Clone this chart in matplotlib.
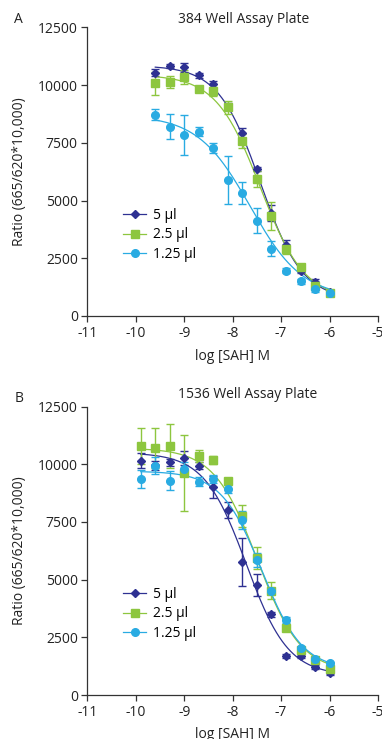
import matplotlib
matplotlib.use('Agg')
import matplotlib.pyplot as plt
import numpy as np

plt.rcParams['font.family'] = ['Open Sans', 'DejaVu Sans']

# colours of the three volumes
c_5 = '#2E3192'
c_25 = '#8DC63F'
c_125 = '#29ABE2'

labels = ['5 \u00b5l', '2.5 \u00b5l', '1.25 \u00b5l']

# A: 384 well plate
x_a = [-9.6, -9.3, -9.0, -8.7, -8.4, -8.1, -7.8, -7.5, -7.2, -6.9, -6.6, -6.3, -6.0]
a_5 = [10540, 10833, 10775, 10430, 10040, 9070, 7915, 6370, 4463, 3077, 1950, 1487, 1027]
a_5_err = [150, 100, 200, 100, 150, 150, 250, 100, 350, 200, 100, 100, 50]
a_25 = [10080, 10140, 10343, 9850, 9737, 9043, 7597, 5950, 4333, 2890, 2110, 1313, 983]
a_25_err = [500, 250, 300, 100, 200, 280, 300, 350, 600, 200, 100, 100, 80]
a_125 = [8723, 8203, 7843, 7987, 7280, 5893, 5317, 4130, 2917, 1963, 1502, 1155, 1000]
a_125_err = [230, 540, 880, 190, 215, 1040, 470, 530, 330, 100, 100, 100, 80]

# B: 1536 well plate
x_b = [-9.9, -9.6, -9.3, -9.0, -8.7, -8.4, -8.1, -7.8, -7.5, -7.2, -6.9, -6.6, -6.3, -6.0]
b_5 = [10140, 9950, 10080, 10255, 9937, 9027, 8017, 5749, 4766, 3495, 1705, 1705, 1228, 939]
b_5_err = [325, 200, 150, 300, 150, 470, 360, 1040, 470, 100, 80, 80, 80, 80]
b_25 = [10803, 10687, 10790, 9606, 10357, 10183, 9273, 7756, 5951, 4520, 2917, 1950, 1517, 1141]
b_25_err = [780, 870, 940, 1640, 250, 180, 100, 470, 480, 360, 150, 100, 80, 80]
b_125 = [9360, 9937, 9287, 9793, 9244, 9360, 8927, 7583, 5850, 4507, 3250, 2022, 1574, 1372]
b_125_err = [390, 360, 400, 300, 200, 170, 160, 380, 300, 150, 150, 80, 80, 80]

# 4PL fit parameters: top, bottom, logIC50, hill
fit_a = [(10850, 700, -7.43, 1.0), (10450, 700, -7.43, 0.95), (8700, 800, -7.64, 0.8)]
fit_b = [(10500, 850, -7.72, 1.0), (10700, 1000, -7.49, 0.97), (9700, 1100, -7.40, 1.03)]


def four_pl(x, top, bottom, ic50, hill):
    return bottom + (top - bottom) / (1 + 10 ** ((x - ic50) * hill))


fig = plt.figure(figsize=(3.82, 7.39), dpi=100)
ax1 = fig.add_axes([0.229, 0.5724, 0.7605, 0.3904])
ax2 = fig.add_axes([0.229, 0.0595, 0.7605, 0.3904])

markers = ['D', 's', 'o']
colors = [c_5, c_25, c_125]
msizes = [4.5, 5.5, 5.5]

panels = [
    (ax1, x_a, [a_5, a_25, a_125], [a_5_err, a_25_err, a_125_err], fit_a),
    (ax2, x_b, [b_5, b_25, b_125], [b_5_err, b_25_err, b_125_err], fit_b),
]

for ax, xs, ys, errs, fits in panels:
    xf = np.linspace(xs[0], xs[-1], 200)
    for i in range(3):
        ax.errorbar(xs, ys[i], yerr=errs[i], fmt='none', ecolor=colors[i],
                    elinewidth=1, capsize=3, capthick=1, zorder=2)
        ax.plot(xf, four_pl(xf, *fits[i]), color=colors[i], lw=0.9, zorder=2)
        ax.plot(xs, ys[i], linestyle='none', marker=markers[i], color=colors[i],
                markersize=msizes[i], zorder=3)
    # legend handles
    handles = [plt.Line2D([], [], color=colors[i], marker=markers[i], lw=0.9,
                          markersize=msizes[i]) for i in range(3)]
    ax.legend(handles, labels, loc='upper left', bbox_to_anchor=(0.1, 0.40),
              frameon=False, fontsize=10, handlelength=1.6, handletextpad=0.5,
              labelspacing=0.35, borderpad=0)
    ax.set_xlim(-11, -5)
    ax.set_ylim(0, 12500)
    ax.set_xticks([-11, -10, -9, -8, -7, -6, -5])
    ax.set_xticklabels(['-11', '-10', '-9', '-8', '-7', '-6', '-5'])
    ax.set_yticks([0, 2500, 5000, 7500, 10000, 12500])
    ax.spines['top'].set_visible(False)
    ax.spines['right'].set_visible(False)
    for s in ['left', 'bottom']:
        ax.spines[s].set_color('#333333')
        ax.spines[s].set_linewidth(0.9)
    ax.tick_params(direction='out', length=4, width=0.9, color='#333333',
                   labelsize=10, labelcolor='#222222', pad=3)

fig.text(0.037, 0.973, 'A', fontsize=10, ha='left', va='center', color='#222222')
fig.text(0.037, 0.461, 'B', fontsize=10, ha='left', va='center', color='#222222')
fig.text(0.639, 0.973, '384 Well Assay Plate', fontsize=10, ha='center', va='center', color='#222222')
fig.text(0.649, 0.4655, '1536 Well Assay Plate', fontsize=10, ha='center', va='center', color='#222222')
fig.text(0.05, 0.7675, 'Ratio (665/620*10,000)', fontsize=10, rotation=90,
         ha='center', va='center', color='#222222')
fig.text(0.05, 0.2547, 'Ratio (665/620*10,000)', fontsize=10, rotation=90,
         ha='center', va='center', color='#222222')
fig.text(0.609, 1 - 357 / 739, 'log [SAH] M', fontsize=10, ha='center', va='center', color='#222222')
fig.text(0.609, 1 - 734 / 739, 'log [SAH] M', fontsize=10, ha='center', va='center', color='#222222')

fig.savefig('out.png', dpi=100)
